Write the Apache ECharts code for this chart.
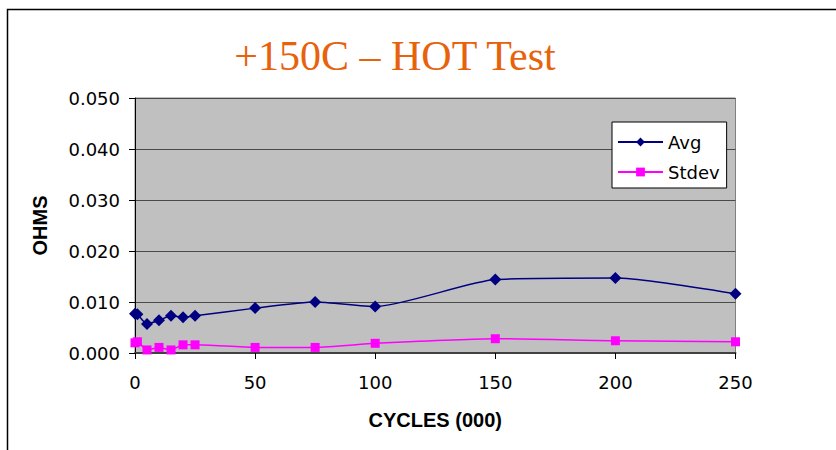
<!DOCTYPE html>
<html><head><meta charset="utf-8">
<script src="https://cdn.jsdelivr.net/npm/echarts@6/dist/echarts.min.js"></script>
<style>html,body{margin:0;padding:0;background:#fff}#c{width:836px;height:450px}</style>
</head><body><div id="c"></div>
<script>
const cycles = [0, 1, 5, 10, 15, 20, 25, 50, 75, 100, 150, 200, 250];
const avg = [0.0077, 0.0076, 0.0057, 0.0064, 0.0073, 0.0070, 0.0073, 0.0088, 0.0100, 0.0091, 0.0144, 0.0147, 0.0116];
const stdev = [0.0020, 0.0022, 0.0006, 0.0011, 0.0006, 0.0016, 0.0016, 0.0011, 0.0011, 0.0019, 0.0028, 0.0024, 0.0022];
const yTicks = [0, 0.01, 0.02, 0.03, 0.04, 0.05];
const xTicks = [0, 50, 100, 150, 200, 250];

const chart = echarts.init(document.getElementById('c'), null, {renderer: 'svg'});
const font = '"DejaVu Sans", sans-serif';
const boldFont = '"Liberation Sans", Arial, sans-serif';
chart.setOption({
  animation: false,
  backgroundColor: '#fff',
  graphic: [{
    type: 'rect', shape: {x: 7.5, y: 9.5, width: 900, height: 500},
    style: {fill: 'none', stroke: '#000', lineWidth: 1.5}, z: -10
  }],
  title: {
    text: '+150C \u2013 HOT Test', left: 390, top: 30, textAlign: 'center',
    textStyle: {fontFamily: '"Liberation Serif", "Times New Roman", serif', fontSize: 42, fontWeight: 'normal', color: '#E8620C'}
  },
  legend: {
    orient: 'vertical', left: 612, top: 122,
    backgroundColor: '#fff', borderColor: '#000', borderWidth: 1,
    padding: [11, 7, 7, 5], itemWidth: 45, itemHeight: 11, itemGap: 12,
    textStyle: {fontFamily: font, fontSize: 18, color: '#000'},
    data: ['Avg', 'Stdev']
  },
  grid: {left: 135, right: 100.5, top: 98, bottom: 97, show: true, backgroundColor: '#C0C0C0', borderColor: '#808080', borderWidth: 1},
  xAxis: {
    type: 'value', min: xTicks[0], max: xTicks[xTicks.length - 1], interval: 50,
    name: 'CYCLES (000)', nameLocation: 'middle', nameGap: 57,
    nameTextStyle: {fontFamily: boldFont, fontSize: 20, fontWeight: 'bold', color: '#000'},
    axisLine: {lineStyle: {color: '#404040', width: 2}},
    axisTick: {show: true, length: 6, lineStyle: {color: '#000'}},
    axisLabel: {fontFamily: font, fontSize: 18, color: '#000', margin: 20},
    splitLine: {show: false}
  },
  yAxis: {
    type: 'value', min: yTicks[0], max: yTicks[yTicks.length - 1], interval: 0.01,
    name: 'OHMS', nameLocation: 'middle', nameGap: 85, nameRotate: 90,
    nameTextStyle: {fontFamily: boldFont, fontSize: 20, fontWeight: 'bold', color: '#000'},
    axisLine: {show: true, lineStyle: {color: '#000', width: 1}},
    axisTick: {show: true, length: 6, lineStyle: {color: '#000'}},
    axisLabel: {fontFamily: font, fontSize: 18, color: '#000', margin: 15, formatter: v => v.toFixed(3)},
    splitLine: {show: true, lineStyle: {color: '#4a4a4a', width: 1}}
  },
  series: [
    {name: 'Avg', type: 'line', smooth: 0.2, data: cycles.map((c, i) => [c, avg[i]]),
     symbol: 'diamond', symbolSize: 12, itemStyle: {color: '#000080'}, lineStyle: {color: '#000080', width: 1.5}},
    {name: 'Stdev', type: 'line', smooth: 0.2, data: cycles.map((c, i) => [c, stdev[i]]),
     symbol: 'rect', symbolSize: 9, itemStyle: {color: '#FF00FF'}, lineStyle: {color: '#FF00FF', width: 1.5}}
  ]
});
</script></body></html>
